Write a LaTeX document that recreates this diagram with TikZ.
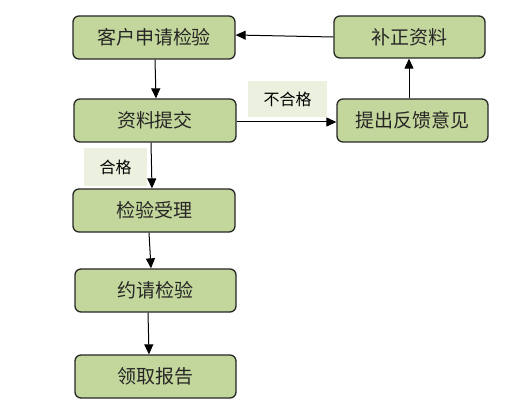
\documentclass[tikz,border=0pt]{standalone}
\usepackage{fontspec}
\newfontfamily\cjk{Noto Sans CJK SC}
\usetikzlibrary{arrows.meta}
\definecolor{boxfill}{HTML}{C3D69B}
\definecolor{labfill}{HTML}{EBF1DE}
\definecolor{boxline}{HTML}{262626}
\begin{document}
\begin{tikzpicture}[x=1pt,y=-1pt,
  stepbox/.style={draw=boxline, line width=1.3pt, rounded corners=6pt, fill=boxfill,
    minimum width=162pt, minimum height=43pt, inner sep=0pt,
    font=\cjk\fontsize{19}{19}\selectfont, text=black!85},
  lab/.style={fill=labfill, inner sep=0pt, font=\cjk\fontsize{16}{16}\selectfont},
  arr/.style={-{Triangle[length=10pt,width=9pt]}, line width=1pt, draw=black}]
\useasboundingbox (0,0) rectangle (531,420);
\node[stepbox] (a) at (154,37.5) {客户申请检验};
\node[stepbox] (b) at (155,120.5) {资料提交};
\node[stepbox] (c) at (154,210.5) {检验受理};
\node[stepbox, minimum width=161pt] (d) at (155.5,290.5) {约请检验};
\node[stepbox, minimum width=161pt] (e) at (155.5,376.5) {领取报告};
\node[stepbox, minimum width=151pt, minimum height=42pt] (f) at (409.5,37) {补正资料};
\node[stepbox, minimum width=151pt] (g) at (412.5,120.5) {提出反馈意见};
\node[lab, minimum width=79pt, minimum height=36pt] (l1) at (287.5,99) {不合格};
\node[lab, minimum width=63pt, minimum height=38pt] (l2) at (115.5,167) {合格};
\draw[arr] ([xshift=1pt]a.south) -- ([xshift=1pt]b.north);
\draw[arr] ([xshift=-4pt]b.south) -- ([xshift=-2pt]c.north);
\draw[arr] ([xshift=-5pt]c.south) -- ([xshift=-4.5pt]d.north);
\draw[arr] ([xshift=-7.5pt]d.south) -- ([xshift=-6.5pt]e.north);
\draw[arr] ([yshift=-1.5pt]b.east) -- ([yshift=-1.5pt]g.west);
\draw[arr] ([xshift=-3.5pt]g.north) -- ([xshift=-0.5pt]f.south);
\draw[arr] (f.west) -- ([yshift=2.5pt]a.east);
\end{tikzpicture}
\end{document}
